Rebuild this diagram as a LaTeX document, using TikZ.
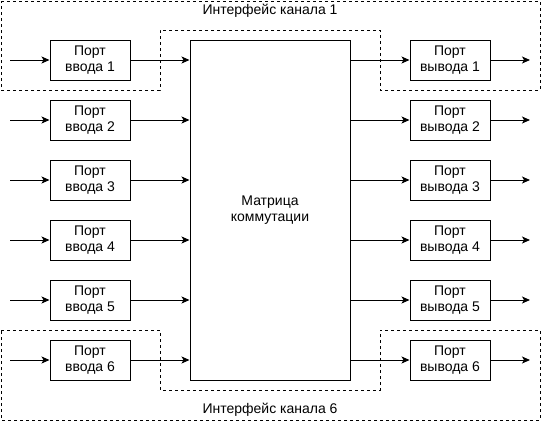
\documentclass[tikz,border=0pt]{standalone}
\usepackage{fontspec}
\setmainfont{Liberation Sans}
\usepackage{tikz}
\usetikzlibrary{positioning}
\usetikzlibrary{arrows.meta}

\tikzset{
  port/.style={rectangle, draw=black, line width=1pt, minimum height=40pt, minimum width=80pt, align=center, inner sep=1pt, font=\fontsize{14}{16}\selectfont},
  link/.style={line width=1pt, -{Stealth[length=8pt, width=7pt, inset=2pt]}},
  iface/.style={draw=black, line width=1pt, dash pattern=on 3pt off 3pt},
  ifacelabel/.style={font=\fontsize{14}{16}\selectfont}
}

\begin{document}
\begin{tikzpicture}[x=1pt, y=-1pt]
\useasboundingbox (0,0) rectangle (546,426);

% channel interfaces
\draw[iface] (1,1) -- (540,1) -- (540,90) -- (380,90) -- (380,30) -- (160,30) -- (160,90) -- (1,90) -- cycle;
\draw[iface] (1,330) -- (160,330) -- (160,390) -- (380,390) -- (380,330) -- (540,330) -- (540,420) -- (1,420) -- cycle;
\node[ifacelabel] (if1) at (270,11) {Интерфейс канала 1};
\node[ifacelabel] (if6) at (270,410) {Интерфейс канала 6};

% switching matrix
\node at (270,210)[rectangle, draw=black, line width=1pt, minimum height=340pt, minimum width=160pt, align=center, font=\fontsize{14}{16}\selectfont] (matrix) {Матрица\\коммутации};

% input ports
\node at (90,60)[port] (in1) {Порт\\ввода 1};
\node at (90,120)[port] (in2) {Порт\\ввода 2};
\node at (90,180)[port] (in3) {Порт\\ввода 3};
\node at (90,240)[port] (in4) {Порт\\ввода 4};
\node at (90,300)[port] (in5) {Порт\\ввода 5};
\node at (90,360)[port] (in6) {Порт\\ввода 6};

% output ports
\node at (450,60)[port] (out1) {Порт\\вывода 1};
\node at (450,120)[port] (out2) {Порт\\вывода 2};
\node at (450,180)[port] (out3) {Порт\\вывода 3};
\node at (450,240)[port] (out4) {Порт\\вывода 4};
\node at (450,300)[port] (out5) {Порт\\вывода 5};
\node at (450,360)[port] (out6) {Порт\\вывода 6};

% free ends
\coordinate (src1) at (10,60);
\coordinate (src2) at (10,120);
\coordinate (src3) at (10,180);
\coordinate (src4) at (10,240);
\coordinate (src5) at (10,300);
\coordinate (src6) at (10,360);
\coordinate (dst1) at (530,60);
\coordinate (dst2) at (530,120);
\coordinate (dst3) at (530,180);
\coordinate (dst4) at (530,240);
\coordinate (dst5) at (530,300);
\coordinate (dst6) at (530,360);

% connectors
\draw[link] (src1) -- (in1);
\draw[link] (src2) -- (in2);
\draw[link] (src3) -- (in3);
\draw[link] (src4) -- (in4);
\draw[link] (src5) -- (in5);
\draw[link] (src6) -- (in6);

\draw[link] (in1.east) -- (in1.east -| matrix.west);
\draw[link] (in2.east) -- (in2.east -| matrix.west);
\draw[link] (in3.east) -- (in3.east -| matrix.west);
\draw[link] (in4.east) -- (in4.east -| matrix.west);
\draw[link] (in5.east) -- (in5.east -| matrix.west);
\draw[link] (in6.east) -- (in6.east -| matrix.west);

\draw[link] (out1.west -| matrix.east) -- (out1.west);
\draw[link] (out2.west -| matrix.east) -- (out2.west);
\draw[link] (out3.west -| matrix.east) -- (out3.west);
\draw[link] (out4.west -| matrix.east) -- (out4.west);
\draw[link] (out5.west -| matrix.east) -- (out5.west);
\draw[link] (out6.west -| matrix.east) -- (out6.west);

\draw[link] (out1) -- (dst1);
\draw[link] (out2) -- (dst2);
\draw[link] (out3) -- (dst3);
\draw[link] (out4) -- (dst4);
\draw[link] (out5) -- (dst5);
\draw[link] (out6) -- (dst6);

\end{tikzpicture}
\end{document}
